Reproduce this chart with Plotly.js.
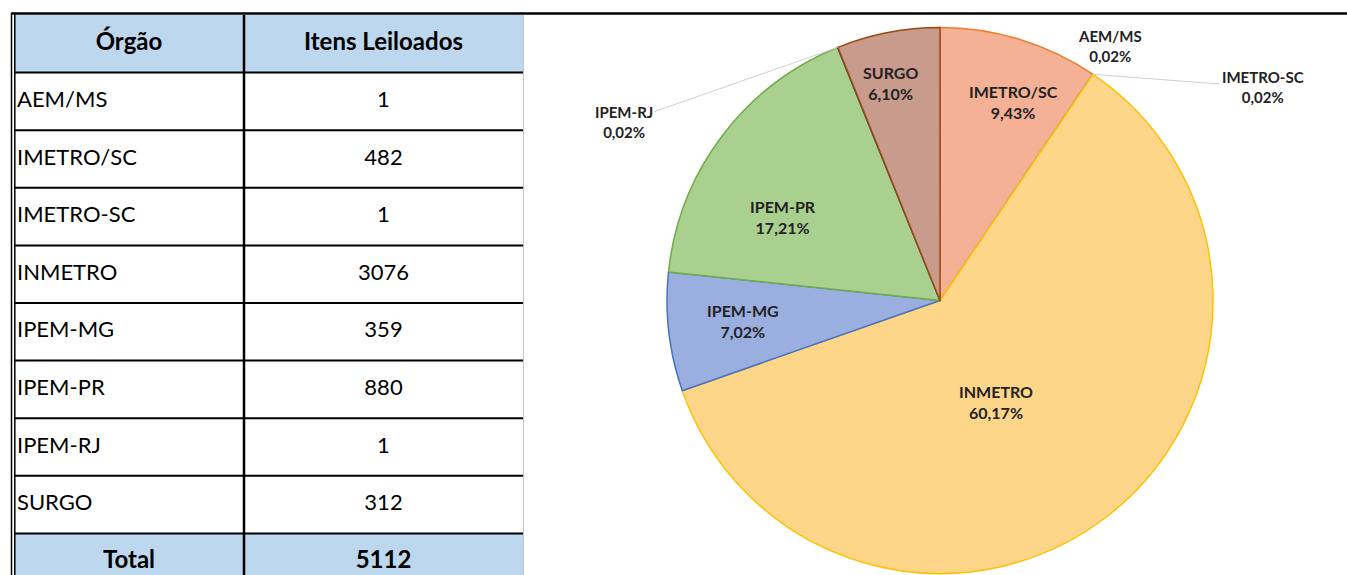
<!DOCTYPE html>
<html><head><meta charset="utf-8">
<script src="https://cdn.plot.ly/plotly-3.0.1.min.js"></script>
<style>html,body{margin:0;padding:0;background:#fff;overflow:hidden}</style>
</head><body><div id="chart" style="width:1347px;height:575px"></div>
<script>
// ---- data ----
const orgaos = ['AEM/MS','IMETRO/SC','IMETRO-SC','INMETRO','IPEM-MG','IPEM-PR','IPEM-RJ','SURGO'];
const itens = [1,482,1,3076,359,880,1,312];
const headers = ['Órgão','Itens Leiloados'];
const totalLabel = 'Total';

// ---- layout constants ----
const W = 1347, H = 575;
const FONT = 'Lato, "Open Sans", sans-serif';
const total = itens.reduce((a,b)=>a+b,0);
const pct = itens.map(v => (v/total*100).toFixed(2).replace('.',',') + '%');

// pie geometry (pixels)
const pieCx = 940, pieCy = 300.5, pieR = 273;
const pieDomX = [(pieCx-pieR)/W, (pieCx+pieR)/W];
const pieDomY = [(H-(pieCy+pieR))/H, (H-(pieCy-pieR))/H];

const fills   = ['#A9B9E4','#F4B196','#C9C9C9','#FED68A','#9AAEE0','#A9D08E','#8E9FC8','#C89B8C'];
const borders = ['#4472C4','#ED7D31','#A5A5A5','#FFC000','#4472C4','#70AD47','#264478','#9E480E'];
const smallCut = 0.01;
// placement of inside labels: [angle shift from slice middle (deg), radius fraction]
const insidePlacement = {'IMETRO/SC':[3.2,0.775], 'INMETRO':[8.7,0.425], 'IPEM-MG':[0.7,0.725],
                         'IPEM-PR':[-9,0.651], 'SURGO':[-1.7,0.818]};
// pixel offsets of the outside labels for the tiny slices
const outsideOffsets = {'AEM/MS':[170,18], 'IMETRO-SC':[170,13], 'IPEM-RJ':[-214,75]};
const leaderColor = {'AEM/MS':'rgba(0,0,0,0)', 'IMETRO-SC':'#d0d0d0', 'IPEM-RJ':'#d0d0d0'};
const labelFont = {family:FONT, size:16, color:'#222'};

// table geometry (pixels)
const tblLeft = 14, tblRight = 523, tblTop = 15, rowH = 57.6, colSplit = 230;
const tblW = tblRight - tblLeft;
const nRows = orgaos.length + 2;
const ySpan = (H - tblTop) / rowH;
const col1Center = colSplit/2, col2Center = (colSplit + tblW)/2, col1TextX = 3;

const tFont = {family: FONT, size: 22, color: '#000'};
const tFontBold = {family: FONT, size: 24, color: '#000'};

const bodyRows = orgaos.map((_,i)=>i+1);
const totalRow = orgaos.length + 1;

const traces = [
  {type:'scatter', mode:'text', x:[col1Center, col2Center], y:[0,0],
   text: headers.map(h=>'<b>'+h+'</b>'), textposition:'middle center', textfont:tFontBold,
   hoverinfo:'skip', showlegend:false},
  {type:'scatter', mode:'text', x: orgaos.map(()=>col1TextX), y: bodyRows,
   text: orgaos, textposition:'middle right', textfont:tFont, hoverinfo:'skip', showlegend:false},
  {type:'scatter', mode:'text', x: itens.map(()=>col2Center), y: bodyRows,
   text: itens.map(String), textposition:'middle center', textfont:tFont, hoverinfo:'skip', showlegend:false},
  {type:'scatter', mode:'text', x:[col1Center, col2Center], y:[totalRow,totalRow],
   text:['<b>'+totalLabel+'</b>','<b>'+total+'</b>'], textposition:'middle center', textfont:tFontBold,
   hoverinfo:'skip', showlegend:false},
  {type:'pie', labels: orgaos, values: itens, text: pct, sort:false, direction:'clockwise', rotation:0,
   marker:{colors: fills, line:{color: borders, width:1.5}},
   textinfo:'none',
   domain:{x:pieDomX, y:pieDomY}, showlegend:false, hoverinfo:'label+value+text'}
];

// shapes for table
const shapes = [];
shapes.push({type:'rect', xref:'x', yref:'y', x0:0, x1:tblW, y0:-0.5, y1:0.5, fillcolor:'#BDD7EE', line:{width:0}, layer:'below'});
shapes.push({type:'rect', xref:'x', yref:'y', x0:0, x1:tblW, y0:totalRow-0.5, y1:totalRow+0.5, fillcolor:'#BDD7EE', line:{width:0}, layer:'below'});
for (let k=0; k<nRows-1; k++) {
  shapes.push({type:'line', xref:'x', yref:'y', x0:0, x1:tblW, y0:k+0.5, y1:k+0.5, line:{color:'#000', width:2}});
}
shapes.push({type:'line', xref:'x', yref:'y', x0:colSplit, x1:colSplit, y0:-0.5, y1:nRows, line:{color:'#000', width:2.5}});
// outer frame
shapes.push({type:'line', xref:'paper', yref:'paper', x0:11/W, x1:1, y0:1-13.5/H, y1:1-13.5/H, line:{color:'#000', width:2.5}});
shapes.push({type:'line', xref:'paper', yref:'paper', x0:11.5/W, x1:11.5/W, y0:0, y1:1-13/H, line:{color:'#000', width:1.5}});
shapes.push({type:'line', xref:'paper', yref:'paper', x0:14.8/W, x1:14.8/W, y0:0, y1:1-13/H, line:{color:'#000', width:1.5}});
shapes.push({type:'line', xref:'paper', yref:'paper', x0:523.5/W, x1:523.5/W, y0:0, y1:1-15/H, line:{color:'#c4c4c4', width:1}});

// pie labels
const annotations = [];
let cum = 0;
itens.forEach((v,i)=>{
  const a0 = cum/total*360;
  cum += v;
  const a1 = cum/total*360;
  const midDeg = (a0+a1)/2;
  const label = '<b>'+orgaos[i]+'</b><br><b>'+pct[i]+'</b>';
  if (v/total >= smallCut) {
    const pl = insidePlacement[orgaos[i]] || [0,0.6];
    const ang = (midDeg + pl[0]) * Math.PI/180, rr = pieR*pl[1];
    const px = pieCx + rr*Math.sin(ang), py = pieCy - rr*Math.cos(ang);
    annotations.push({xref:'paper', yref:'paper', x:px/W, y:1-py/H, xanchor:'center', yanchor:'middle',
      text:label, showarrow:false, font:labelFont});
  } else {
    const ang = midDeg*Math.PI/180;
    const px = pieCx + pieR*Math.sin(ang), py = pieCy - pieR*Math.cos(ang);
    const off = outsideOffsets[orgaos[i]];
    annotations.push({xref:'paper', yref:'paper', x:px/W, y:1-py/H, ax:off[0], ay:off[1],
      text:label, showarrow:true, arrowhead:0, arrowwidth:1,
      arrowcolor: leaderColor[orgaos[i]], standoff:0,
      font:{family:FONT, size:15, color:'#222'}});
  }
});

const layout = {
  width:W, height:H, margin:{l:0,r:0,t:0,b:0}, paper_bgcolor:'#fff', plot_bgcolor:'rgba(0,0,0,0)',
  showlegend:false,
  xaxis:{domain:[tblLeft/W, tblRight/W], range:[0,tblW], visible:false, fixedrange:true},
  yaxis:{domain:[0, 1-tblTop/H], range:[ySpan-0.5, -0.5], visible:false, fixedrange:true},
  shapes, annotations
};
Plotly.newPlot('chart', traces, layout, {displayModeBar:false, staticPlot:true});
</script></body></html>
